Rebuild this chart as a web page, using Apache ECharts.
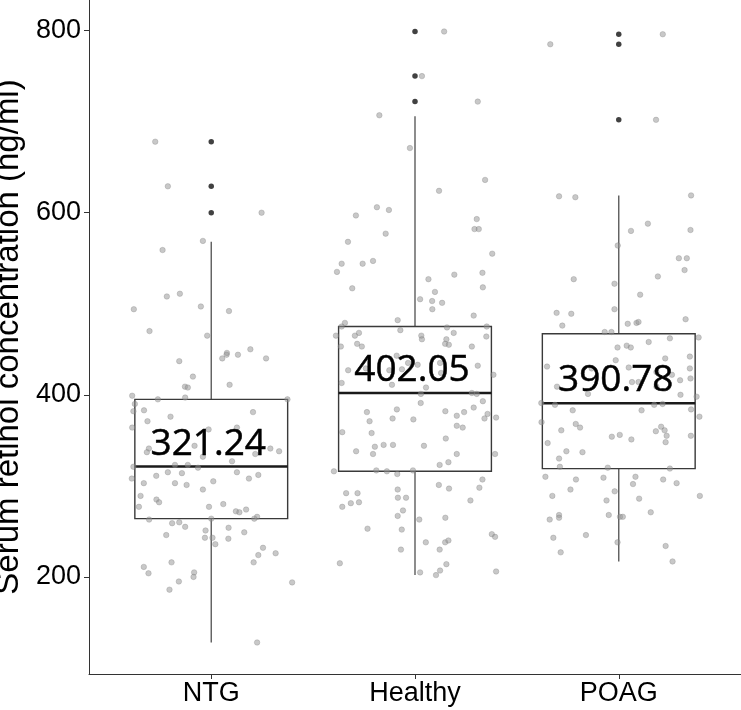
<!DOCTYPE html>
<html>
<head>
<meta charset="utf-8">
<script src="https://cdn.jsdelivr.net/npm/echarts@6/dist/echarts.min.js"></script>
<style>html,body{margin:0;padding:0;background:#fff}#c{width:741px;height:710px}</style>
</head>
<body>
<div id="c"></div>
<script>
const categories = ['NTG', 'Healthy', 'POAG'];
const yTicks = [200, 400, 600, 800];

// box statistics: [lower whisker, Q1, median, Q3, upper whisker]
const ntgBox = [128, 264, 321.24, 395, 568];
const healthyBox = [202, 316, 402.05, 475, 706];
const poagBox = [217, 319, 390.78, 467, 619];

const ntgOutliers = [600, 629, 678];
const healthyOutliers = [722, 750, 799];
const poagOutliers = [702, 785, 796];

// individual observations (value) and their horizontal jitter (in category units)
const ntgValues = [678,629,600,569,559,511,508,494,497,492,470,465,450,446,444,444,440,440,437,420,409,408,411,399,395,397,390,395,382,383,376,381,371,364,364,362,341,337,344,341,338,332,327,323,323,321,320,335,315,314,315,312,311,308,308,303,303,301,305,296,289,285,282,277,280,277,272,271,274,266,264,263,259,260,255,264,254,251,249,246,243,243,242,236,232,224,226,216,216,211,204,205,200,195,194,186,128];
const ntgJitter = [-0.275,-0.213,0.247,-0.041,-0.239,-0.154,-0.218,-0.38,-0.051,0.087,-0.303,-0.02,0.192,0.077,0.075,0.131,0.054,0.269,-0.157,-0.09,-0.129,-0.115,0.09,-0.388,-0.262,-0.128,-0.375,0.374,-0.382,-0.33,-0.2,0.205,-0.313,-0.388,0.126,-0.013,-0.306,-0.316,-0.082,0.29,0.333,-0.041,0.102,-0.178,-0.115,-0.382,-0.065,0.216,-0.213,-0.144,0.126,0.231,-0.27,-0.39,0.185,-0.331,-0.178,-0.121,0.01,-0.041,-0.347,-0.269,-0.256,-0.355,0.059,-0.011,0.121,0.138,0.171,0.225,0.211,-0.305,-0.192,-0.157,-0.128,0,0.085,-0.028,0.162,-0.221,-0.031,0.006,0.084,0.02,0.254,0.231,0.316,0.208,-0.195,-0.331,-0.308,-0.084,-0.087,-0.159,0.397,-0.205,0.225];

const healthyValues = [799,750,722,707,671,636,624,606,603,597,593,582,582,577,568,555,544,544,547,535,527,532,534,517,518,513,505,503,501,494,487,482,479,475,475,474,471,468,465,465,468,465,461,464,461,456,453,453,456,455,453,443,435,433,435,432,427,429,427,428,424,422,413,411,408,401,402,401,391,393,381,384,382,386,381,377,379,375,374,371,374,373,366,364,359,358,352,343,345,345,344,338,335,335,335,323,326,316,317,316,313,317,301,297,307,298,292,292,296,287,287,284,281,282,277,273,267,263,265,253,252,247,244,238,238,240,230,230,215,214,207,206,205,202];
const healthyJitter = [0.143,0.034,0.308,-0.175,-0.025,0.344,0.118,-0.187,-0.128,-0.29,0.303,0.292,0.313,-0.144,-0.329,0.379,-0.36,-0.257,-0.206,-0.383,0.066,0.193,0.331,-0.308,0.333,0.098,0.025,0.084,0.133,0.085,0.288,-0.085,-0.344,-0.36,0.352,0.157,-0.072,-0.275,-0.295,-0.388,0.19,0.031,0.034,0.35,0.154,-0.284,-0.261,-0.364,0.148,0.166,0.279,-0.09,-0.034,0.013,0.123,0.308,-0.328,-0.241,-0.126,-0.064,0.128,0.385,-0.36,-0.113,0.054,0.029,0.279,0.303,0.028,0.333,-0.236,-0.089,0.149,0.288,0.241,0.205,0.356,0.398,0.341,-0.223,-0.11,-0.008,0.205,0.234,-0.357,-0.213,0.151,-0.197,-0.154,-0.108,0.044,-0.289,-0.206,0.205,0.393,0.121,0.164,-0.398,-0.19,-0.138,-0.087,-0.01,0.117,0.167,0.331,0.316,-0.338,-0.282,-0.085,-0.084,-0.044,0.272,-0.315,-0.275,-0.357,-0.059,-0.085,0.021,0.149,-0.233,-0.065,0.377,0.393,0.053,0.148,0.164,-0.069,0.121,-0.369,0.154,0.123,0.398,0.025,0.103];

const poagValues = [796,785,702,618,617,619,588,580,581,564,550,550,537,530,527,522,510,494,490,489,483,478,479,480,476,469,469,463,462,458,452,454,452,442,440,438,431,429,430,429,425,422,418,416,414,414,409,409,401,400,398,391,389,389,390,383,383,384,376,370,368,364,361,365,360,361,355,354,356,355,351,348,347,338,337,330,321,320,319,310,310,307,309,307,302,303,296,294,289,289,286,284,271,268,268,265,266,266,263,246,243,238,234,227,217];
const poagJitter = [0.216,-0.336,0.183,-0.293,-0.213,0.355,0.143,0.06,0.352,-0.005,0.295,0.334,0.323,0.192,-0.221,-0.021,0.105,-0.021,-0.305,-0.233,0.328,0.044,0.087,0.097,-0.277,-0.069,-0.036,0.392,0.251,0.147,-0.006,0.039,0.059,0.349,0.228,-0.015,-0.352,-0.133,0.049,0.349,0.185,0.261,0.352,0.301,0.065,0.097,0.185,-0.303,-0.151,0.303,0.382,-0.38,-0.313,0.174,0.215,-0.226,0.112,0.355,0.396,-0.379,-0.211,-0.19,-0.282,0.208,0.182,0.225,0.235,-0.034,0.005,0.354,0.062,0.23,-0.349,-0.257,-0.178,-0.293,-0.289,-0.054,0.251,-0.36,0.082,-0.21,-0.075,0.218,0.07,0.284,-0.237,-0.02,-0.326,0.398,0.1,-0.06,0.157,-0.049,-0.293,-0.293,0.006,0.02,-0.339,-0.161,-0.321,-0.006,0.23,-0.285,0.264];

const boxWidth = 0.75;
const FONT = '"Liberation Sans", Arial, sans-serif';

const boxes = [ntgBox, healthyBox, poagBox];
const outliers = [ntgOutliers, healthyOutliers, poagOutliers];
const groupValues = [ntgValues, healthyValues, poagValues];
const groupJitter = [ntgJitter, healthyJitter, poagJitter];

const boxData = boxes.map((b, i) => [i + 1].concat(b));
const pointData = [];
groupValues.forEach((vals, g) => vals.forEach((v, k) => pointData.push([g + 1 + groupJitter[g][k], v])));
const outlierData = [];
outliers.forEach((vals, g) => vals.forEach(v => outlierData.push([g + 1, v])));
const medianData = boxes.map((b, i) => [i + 1, b[2]]);

function renderBox(params, api) {
  const x = api.value(0);
  const lo = api.coord([x, api.value(1)]);
  const q1 = api.coord([x, api.value(2)]);
  const med = api.coord([x, api.value(3)]);
  const q3 = api.coord([x, api.value(4)]);
  const hi = api.coord([x, api.value(5)]);
  const hw = api.size([boxWidth, 0])[0] / 2;
  const wStyle = { stroke: '#5c5c5c', lineWidth: 1.4 };
  return {
    type: 'group',
    children: [
      { type: 'line', shape: { x1: lo[0], y1: lo[1], x2: q1[0], y2: q1[1] }, style: wStyle },
      { type: 'line', shape: { x1: q3[0], y1: q3[1], x2: hi[0], y2: hi[1] }, style: wStyle },
      { type: 'rect', shape: { x: med[0] - hw, y: q3[1], width: hw * 2, height: q1[1] - q3[1] },
        style: { fill: '#ffffff', stroke: '#3a3a3a', lineWidth: 1.4 } },
      { type: 'line', shape: { x1: med[0] - hw, y1: med[1], x2: med[0] + hw, y2: med[1] },
        style: { stroke: '#1a1a1a', lineWidth: 2.6 } }
    ]
  };
}

function renderLabel(params, api) {
  const p = api.coord([api.value(0), api.value(1)]);
  return {
    type: 'text',
    x: p[0] - 3, y: p[1] - 4,
    style: {
      text: api.value(1).toFixed(2),
      fill: '#000', stroke: '#000', lineWidth: 0.5,
      font: '37px "Open Sans", "Noto Sans", sans-serif',
      align: 'center', verticalAlign: 'bottom'
    }
  };
}

const chart = echarts.init(document.getElementById('c'), null, { renderer: 'canvas' });
chart.setOption({
  animation: false,
  backgroundColor: '#ffffff',
  grid: { left: 89, right: 0, top: 0, bottom: 36, containLabel: false, outerBoundsMode: 'none' },
  xAxis: {
    type: 'value', min: 0.4, max: 3.6,
    splitLine: { show: false },
    axisLine: { show: true, onZero: false, lineStyle: { color: '#333', width: 1 } },
    axisTick: { show: true, length: 5, customValues: [1, 2, 3], lineStyle: { color: '#333' } },
    axisLabel: { customValues: [1, 2, 3], formatter: v => categories[Math.round(v) - 1] || '',
      fontSize: 27, color: '#000', fontFamily: FONT, margin: 6 }
  },
  yAxis: {
    type: 'value', min: 93.4, max: 833.6,
    name: 'Serum retinol concentration (ng/ml)', nameLocation: 'middle', nameGap: 56,
    nameTextStyle: { fontSize: 33, color: '#000', fontFamily: FONT },
    splitLine: { show: false },
    axisLine: { show: true, onZero: false, lineStyle: { color: '#333', width: 1 } },
    axisTick: { show: true, length: 5, customValues: yTicks, lineStyle: { color: '#333' } },
    axisLabel: { customValues: yTicks, fontSize: 27, color: '#000', fontFamily: FONT, margin: 8 }
  },
  series: [
    { type: 'custom', z: 1, renderItem: renderBox, data: boxData,
      encode: { x: 0, y: [1, 2, 3, 4, 5] }, clip: false },
    { type: 'scatter', z: 2, data: pointData, symbolSize: 5.5,
      itemStyle: { color: 'rgba(150,150,150,0.65)', borderColor: 'rgba(120,120,120,0.6)', borderWidth: 0.6 } },
    { type: 'scatter', z: 3, data: outlierData, symbolSize: 5.5,
      itemStyle: { color: '#111' } },
    { type: 'custom', z: 4, renderItem: renderLabel, data: medianData, silent: true,
      encode: { x: 0, y: 1 } }
  ]
});
</script>
</body>
</html>
